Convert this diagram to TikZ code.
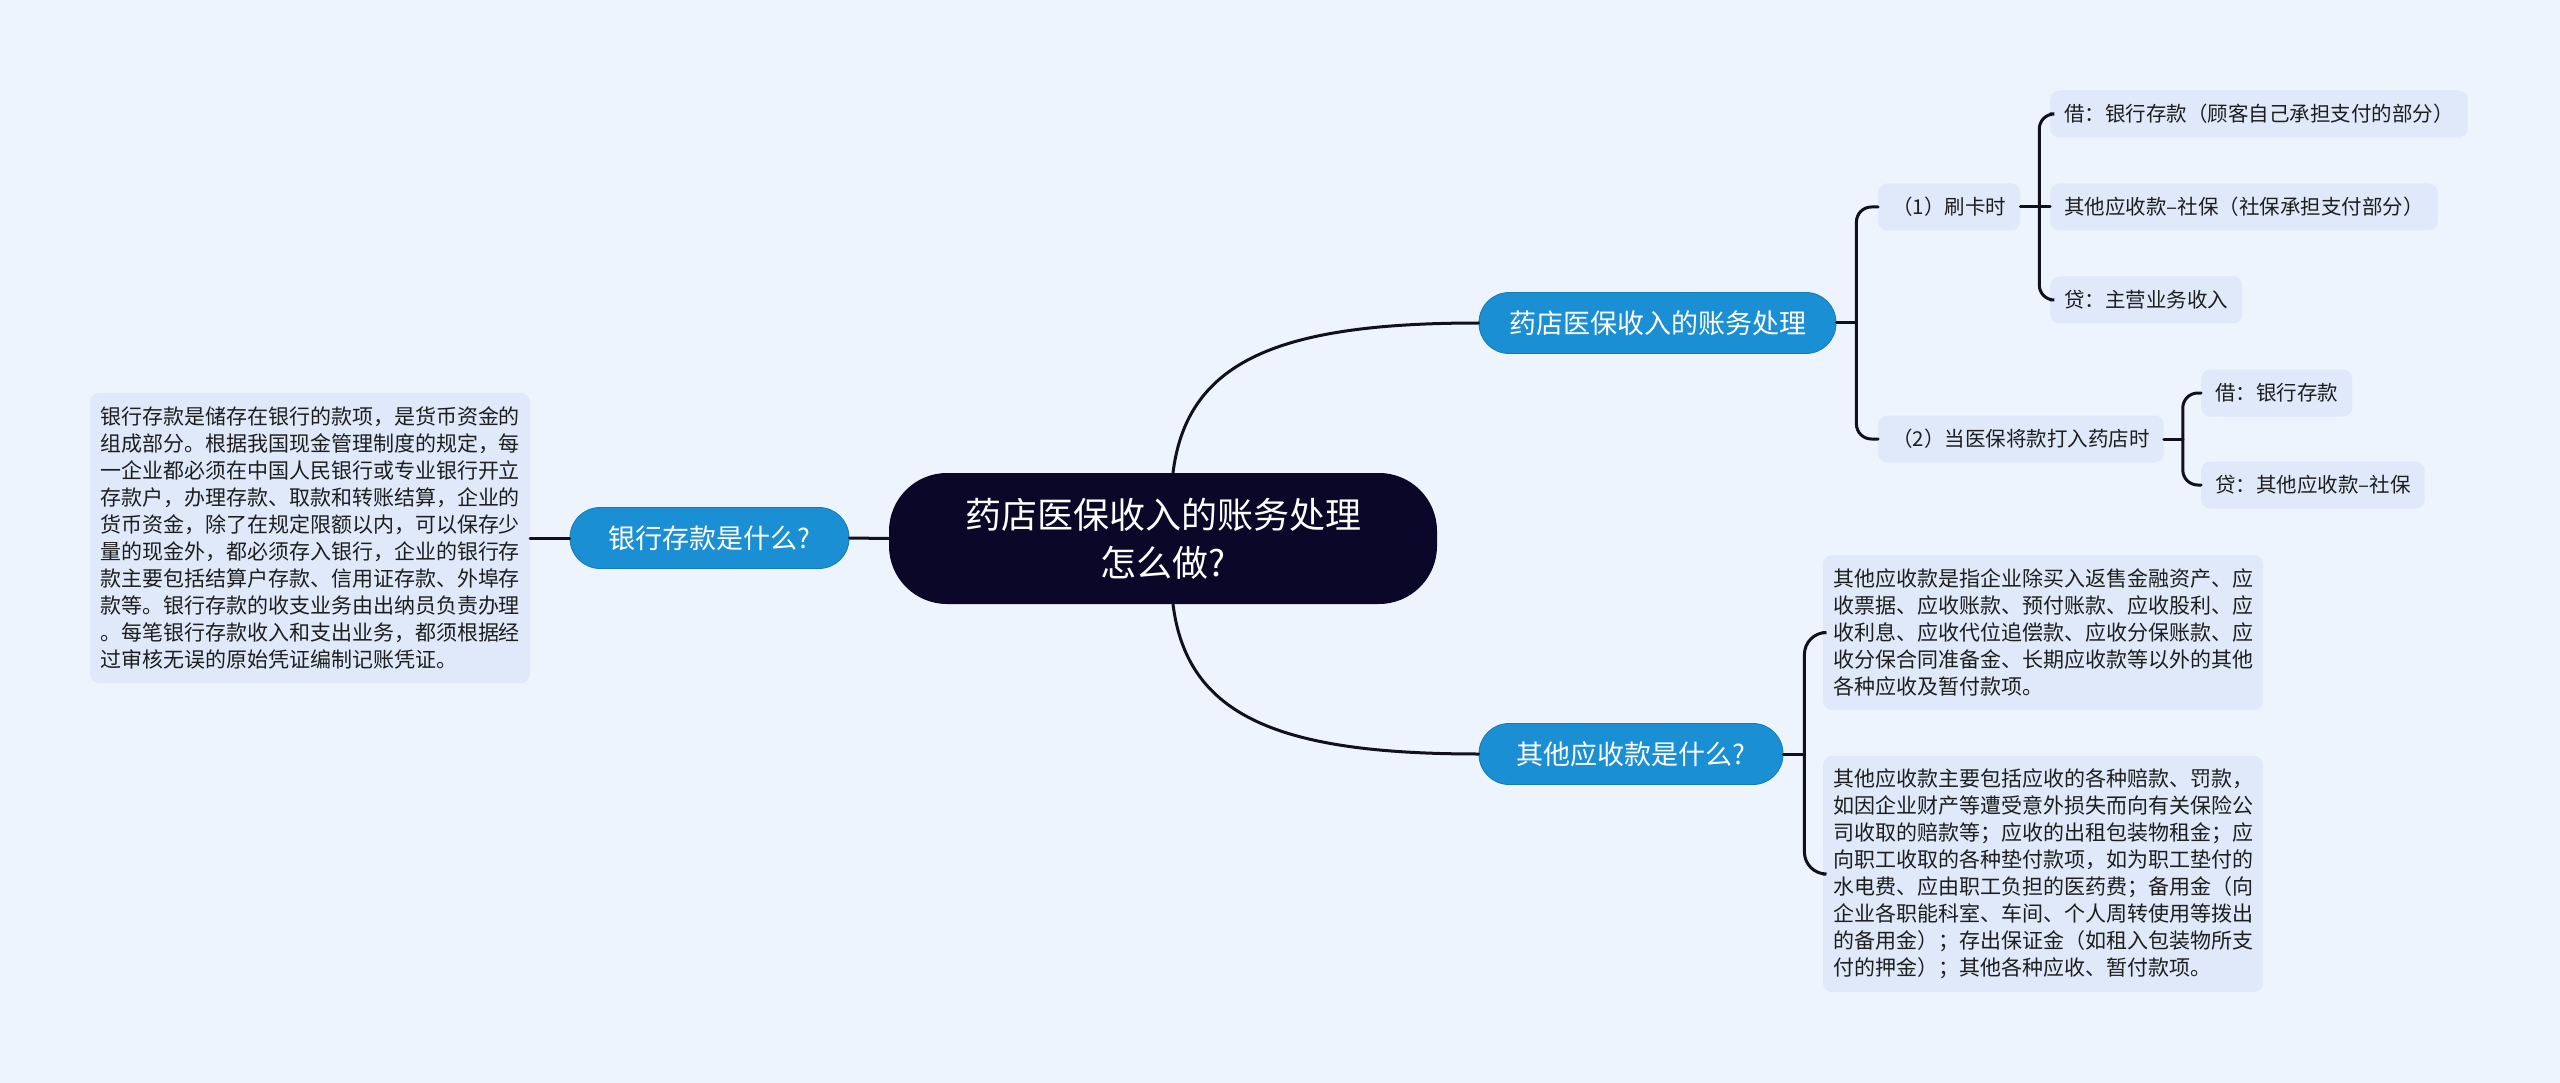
\documentclass[tikz,border=0pt]{standalone}
\usepackage{fontspec}
\setmainfont{Noto Sans CJK SC}
\definecolor{bgc}{HTML}{EEF4FD}
\definecolor{boxc}{HTML}{DFE9FA}
\definecolor{mblue}{HTML}{1A8FD3}
\definecolor{navy}{HTML}{0A0729}
\definecolor{txtc}{HTML}{1E1E1E}
\definecolor{linec}{HTML}{10101E}
\begin{document}
\begin{tikzpicture}[x=1pt,y=-1pt,
  rootbox/.style={fill=navy,text=white,rounded corners=58pt,minimum width=548pt,minimum height=131pt,align=center,font=\fontsize{36}{48}\selectfont,inner sep=0pt},
  branchbox/.style={fill=mblue,draw=mblue!85!black,line width=0.8pt,text=white,rounded corners=30pt,minimum height=61pt,font=\fontsize{27}{32}\selectfont,inner sep=0pt},
  leafbox/.style={fill=boxc,text=txtc,rounded corners=9pt,minimum height=47pt,font=\fontsize{20.5}{25}\selectfont,inner xsep=14pt,inner ysep=0pt,anchor=west},
  parabox/.style={fill=boxc,text=txtc,rounded corners=9pt,minimum width=440pt,align=left,font=\fontsize{21}{27}\selectfont,inner sep=0pt},
  conn/.style={draw=linec,line width=3pt,line cap=round},
  bconn/.style={conn,rounded corners=15pt}]
\fill[bgc] (0,0) rectangle (2560,1083);
\useasboundingbox (0,0) rectangle (2560,1083);

% central node
\node[rootbox] (root) at (1163,538.5) {药店医保收入的账务处理\\怎么做?};

% left branch
\node[branchbox,minimum width=279pt] (lnode) at (709.5,538) {银行存款是什么?};
\node[parabox,minimum height=290pt] (ltext) at (310,538) {银行存款是储存在银行的款项，是货币资金的\\
组成部分。根据我国现金管理制度的规定，每\\
一企业都必须在中国人民银行或专业银行开立\\
存款户，办理存款、取款和转账结算，企业的\\
货币资金，除了在规定限额以内，可以保存少\\
量的现金外，都必须存入银行，企业的银行存\\
款主要包括结算户存款、信用证存款、外埠存\\
款等。银行存款的收支业务由出纳员负责办理\\
。每笔银行存款收入和支出业务，都须根据经\\
过审核无误的原始凭证编制记账凭证。};

% upper right branch
\node[branchbox,minimum width=357pt] (up) at (1657.5,323) {药店医保收入的账务处理};
\node[leafbox] (s1) at (1878,207) {（1）刷卡时};
\node[leafbox] (s2) at (1878,439) {（2）当医保将款打入药店时};
\node[leafbox] (a1) at (2050,114) {借：银行存款（顾客自己承担支付的部分）};
\node[leafbox] (a2) at (2050,207) {其他应收款–社保（社保承担支付部分）};
\node[leafbox] (a3) at (2050,300) {贷：主营业务收入};
\node[leafbox] (b1) at (2201,393) {借：银行存款};
\node[leafbox] (b2) at (2201,485) {贷：其他应收款–社保};

% lower right branch
\node[branchbox,minimum width=304pt] (lo) at (1631,754) {其他应收款是什么?};
\node[parabox,minimum height=155pt] (t1) at (2043,632.5) {其他应收款是指企业除买入返售金融资产、应\\
收票据、应收账款、预付账款、应收股利、应\\
收利息、应收代位追偿款、应收分保账款、应\\
收分保合同准备金、长期应收款等以外的其他\\
各种应收及暂付款项。};
\node[parabox,minimum height=236pt] (t2) at (2043,874) {其他应收款主要包括应收的各种赔款、罚款，\\
如因企业财产等遭受意外损失而向有关保险公\\
司收取的赔款等；应收的出租包装物租金；应\\
向职工收取的各种垫付款项，如为职工垫付的\\
水电费、应由职工负担的医药费；备用金（向\\
企业各职能科室、车间、个人周转使用等拨出\\
的备用金）；存出保证金（如租入包装物所支\\
付的押金）；其他各种应收、暂付款项。};

% connectors from root
\coordinate (rtop) at ([xshift=10pt]root.north);
\coordinate (rbot) at ([xshift=10pt]root.south);
\draw[conn] (rtop) .. controls (1187,360) and (1280,323) .. (up.west);
\draw[conn] (rbot) .. controls (1187,717) and (1280,754) .. (lo.west);
\draw[conn] (root.west) -- (lnode.east);
\draw[conn] (lnode.west) -- (ltext.east);

% upper bracket
\coordinate (j1) at ([xshift=20pt]up.east);
\draw[conn] (up.east) -- (j1);
\draw[bconn] (j1) |- (s1.west);
\draw[bconn] (j1) |- (s2.west);

\coordinate (j2) at ([xshift=19pt]s1.east);
\draw[conn] (s1.east) -- (j2);
\draw[bconn] (j2) |- (a1.west);
\draw[conn] (j2) -- (a2.west);
\draw[bconn] (j2) |- (a3.west);

\coordinate (j3) at ([xshift=19pt]s2.east);
\draw[conn] (s2.east) -- (j3);
\draw[bconn] (j3) |- (b1.west);
\draw[bconn] (j3) |- (b2.west);

% lower bracket
\coordinate (j4) at ([xshift=21pt]lo.east);
\draw[conn] (lo.east) -- (j4);
\draw[conn,rounded corners=22pt] (j4) |- (t1.west);
\draw[conn,rounded corners=22pt] (j4) |- (t2.west);
\end{tikzpicture}
\end{document}
